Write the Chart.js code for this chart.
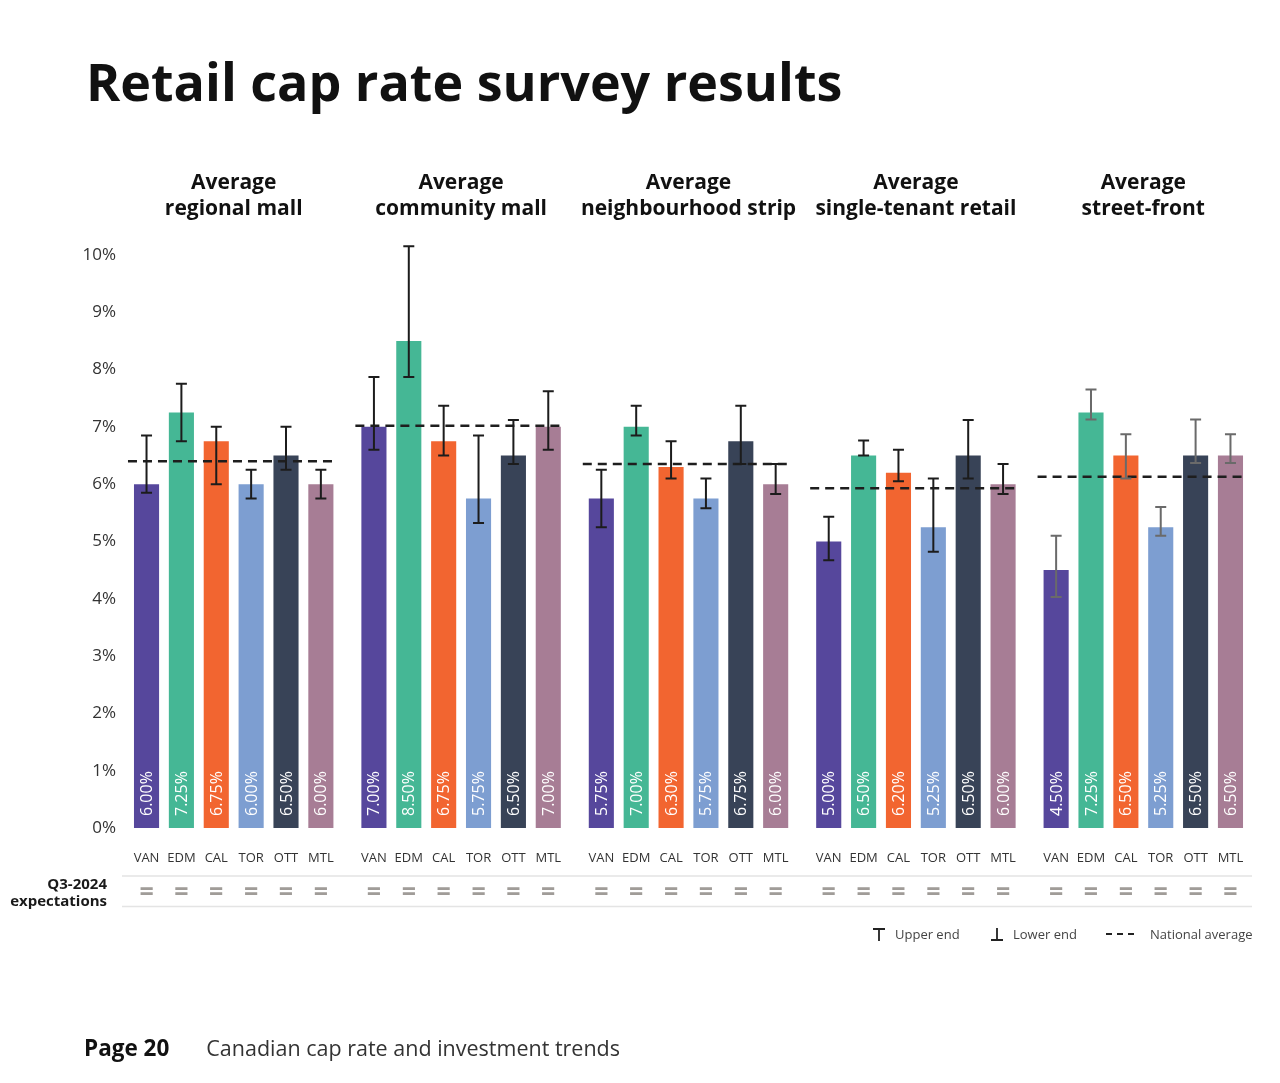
<!DOCTYPE html>
<html><head><meta charset="utf-8">
<script src="https://cdn.jsdelivr.net/npm/chart.js@4.4.1/dist/chart.umd.min.js"></script>
<style>
html,body{margin:0;padding:0;background:#fff;}
body{width:1280px;height:1083px;position:relative;overflow:hidden;font-family:"Open Sans",sans-serif;}
#title{position:absolute;left:86px;top:55px;font-size:52px;font-weight:700;color:#111;margin:0;line-height:1;white-space:nowrap;}
#footer{position:absolute;left:84px;top:1037px;font-size:21.5px;line-height:1;color:#333;white-space:nowrap;}
#footer b{color:#111;font-size:22.5px;margin-right:37px;}
canvas{position:absolute;left:0;top:0;}
</style></head>
<body>
<canvas id="c" width="1280" height="1083"></canvas>
<h1 id="title">Retail cap rate survey results</h1>
<div id="footer"><b>Page 20</b>Canadian cap rate and investment trends</div>
<script>
// ---- data ----
const groups = [["Average","regional mall"],["Average","community mall"],["Average","neighbourhood strip"],["Average","single-tenant retail"],["Average","street-front"]];
const cities = ["VAN","EDM","CAL","TOR","OTT","MTL"];
const regionalMall       = [6.00, 7.25, 6.75, 6.00, 6.50, 6.00];
const communityMall      = [7.00, 8.50, 6.75, 5.75, 6.50, 7.00];
const neighbourhoodStrip = [5.75, 7.00, 6.30, 5.75, 6.75, 6.00];
const singleTenant       = [5.00, 6.50, 6.20, 5.25, 6.50, 6.00];
const streetFront        = [4.50, 7.25, 6.50, 5.25, 6.50, 6.50];
const upperRegional      = [6.85, 7.75, 7.00, 6.25, 7.00, 6.25];
const lowerRegional      = [5.85, 6.75, 6.00, 5.75, 6.25, 5.75];
const upperCommunity     = [7.87, 10.15, 7.37, 6.85, 7.12, 7.62];
const lowerCommunity     = [6.60, 7.87, 6.50, 5.32, 6.35, 6.60];
const upperNeighbourhood = [6.25, 7.37, 6.75, 6.10, 7.37, 6.35];
const lowerNeighbourhood = [5.25, 6.85, 6.10, 5.58, 6.35, 5.83];
const upperSingle        = [5.43, 6.76, 6.60, 6.10, 7.12, 6.35];
const lowerSingle        = [4.67, 6.50, 6.05, 4.82, 6.10, 5.83];
const upperStreet        = [5.10, 7.65, 6.87, 5.60, 7.13, 6.87];
const lowerStreet        = [4.03, 7.13, 6.10, 5.10, 6.37, 6.37];
const nationalAvg        = [6.40, 7.02, 6.35, 5.93, 6.13];
const expectations       = ["=","=","=","=","=","="];
const yTicks             = [0,1,2,3,4,5,6,7,8,9,10];

// ---- styles ----
const cityColors = ["#56479c","#45b795","#f26530","#7d9ed1","#384357","#a77d95"];
const errColors  = ["#1c1c1c","#1c1c1c","#1c1c1c","#1c1c1c","#6a6a6a"];
const FONT = '"Open Sans", sans-serif';

const values = [regionalMall, communityMall, neighbourhoodStrip, singleTenant, streetFront];
const uppers = [upperRegional, upperCommunity, upperNeighbourhood, upperSingle, upperStreet];
const lowers = [lowerRegional, lowerCommunity, lowerNeighbourhood, lowerSingle, lowerStreet];

const overlay = {
  id: 'overlay',
  afterDatasetsDraw(chart) {
    const ctx = chart.ctx, y = chart.scales.y;
    const metas = cities.map((c, i) => chart.getDatasetMeta(i));
    ctx.save();
    // national average dashed lines
    groups.forEach((g, gi) => {
      const first = metas[0].data[gi], last = metas[5].data[gi];
      const x0 = first.x - first.width / 2 - 6, x1 = last.x + last.width / 2 + 3;
      const yy = y.getPixelForValue(nationalAvg[gi]);
      ctx.setLineDash([9, 6]); ctx.lineWidth = 2.5; ctx.strokeStyle = '#1e1e1e';
      ctx.beginPath(); ctx.moveTo(x0, yy); ctx.lineTo(x1, yy); ctx.stroke();
    });
    ctx.setLineDash([]);
    // error bars
    groups.forEach((g, gi) => {
      cities.forEach((c, ci) => {
        const bar = metas[ci].data[gi];
        const yu = y.getPixelForValue(uppers[gi][ci]);
        const yl = y.getPixelForValue(lowers[gi][ci]);
        ctx.strokeStyle = errColors[gi]; ctx.lineWidth = 2;
        ctx.beginPath();
        ctx.moveTo(bar.x, yu); ctx.lineTo(bar.x, yl);
        ctx.moveTo(bar.x - 5.5, yu); ctx.lineTo(bar.x + 5.5, yu);
        ctx.moveTo(bar.x - 5.5, yl); ctx.lineTo(bar.x + 5.5, yl);
        ctx.stroke();
      });
    });
    // value labels inside bars
    ctx.fillStyle = '#ffffff';
    ctx.font = '16px ' + FONT;
    ctx.textAlign = 'left'; ctx.textBaseline = 'middle';
    groups.forEach((g, gi) => {
      cities.forEach((c, ci) => {
        const bar = metas[ci].data[gi];
        ctx.save();
        ctx.translate(bar.x + 1, y.getPixelForValue(0) - 12);
        ctx.rotate(-Math.PI / 2);
        ctx.fillText(values[gi][ci].toFixed(2) + '%', 0, 0);
        ctx.restore();
      });
    });
    ctx.restore();
  },
  afterDraw(chart) {
    const ctx = chart.ctx;
    const metas = cities.map((c, i) => chart.getDatasetMeta(i));
    ctx.save();
    // city labels
    ctx.fillStyle = '#333'; ctx.font = '13px ' + FONT;
    ctx.textAlign = 'center'; ctx.textBaseline = 'middle';
    groups.forEach((g, gi) => cities.forEach((c, ci) => {
      ctx.fillText(c, metas[ci].data[gi].x, 858);
    }));
    // expectations row
    ctx.strokeStyle = '#e4e4e4'; ctx.lineWidth = 1.5;
    ctx.beginPath(); ctx.moveTo(122, 876); ctx.lineTo(1252, 876);
    ctx.moveTo(122, 906.5); ctx.lineTo(1252, 906.5); ctx.stroke();
    ctx.fillStyle = '#a09c98'; ctx.font = 'bold 25px ' + FONT;
    groups.forEach((g, gi) => cities.forEach((c, ci) => {
      ctx.fillText(expectations[ci], metas[ci].data[gi].x, 893);
    }));
    ctx.fillStyle = '#1a1a1a'; ctx.font = 'bold 15px ' + FONT; ctx.textAlign = 'right';
    ctx.fillText('Q3-2024', 107, 885);
    ctx.fillText('expectations', 107, 902);
    // legend
    ctx.strokeStyle = '#222'; ctx.lineWidth = 1.8;
    ctx.beginPath();
    ctx.moveTo(873, 929); ctx.lineTo(885, 929); ctx.moveTo(879, 929); ctx.lineTo(879, 941);
    ctx.moveTo(991, 940); ctx.lineTo(1003, 940); ctx.moveTo(997, 928); ctx.lineTo(997, 940);
    ctx.stroke();
    ctx.setLineDash([6, 5]); ctx.lineWidth = 2;
    ctx.beginPath(); ctx.moveTo(1106, 934); ctx.lineTo(1136, 934); ctx.stroke();
    ctx.setLineDash([]);
    ctx.fillStyle = '#444'; ctx.font = '13px ' + FONT; ctx.textAlign = 'left';
    ctx.fillText('Upper end', 895, 935);
    ctx.fillText('Lower end', 1013, 935);
    ctx.fillText('National average', 1150, 935);
    ctx.restore();
  }
};

new Chart(document.getElementById('c'), {
  type: 'bar',
  data: {
    labels: groups,
    datasets: cities.map((c, ci) => ({
      label: c,
      data: values.map(v => v[ci]),
      backgroundColor: cityColors[ci],
      barPercentage: 0.72,
      categoryPercentage: 0.92
    }))
  },
  options: {
    responsive: false,
    animation: false,
    layout: { padding: { left: 0, right: 23, top: 132, bottom: 255 } },
    plugins: { legend: { display: false }, tooltip: { enabled: false } },
    scales: {
      x: {
        type: 'category', position: 'top',
        grid: { display: false, drawTicks: false }, border: { display: false },
        ticks: { font: { family: FONT, size: 21, weight: 'bold', lineHeight: 1.24 }, color: '#111', padding: 10, maxRotation: 0, autoSkip: false },
        afterFit(s) { s.height = 100; }
      },
      y: {
        min: 0, max: 10.4,
        grid: { display: false, drawTicks: false }, border: { display: false },
        afterBuildTicks(s) { s.ticks = yTicks.map(v => ({ value: v })); },
        ticks: { callback: v => v + '%', font: { family: FONT, size: 17 }, color: '#333', padding: 4 },
        afterFit(s) { s.width = 120; }
      }
    }
  },
  plugins: [overlay]
});
</script>
</body></html>
